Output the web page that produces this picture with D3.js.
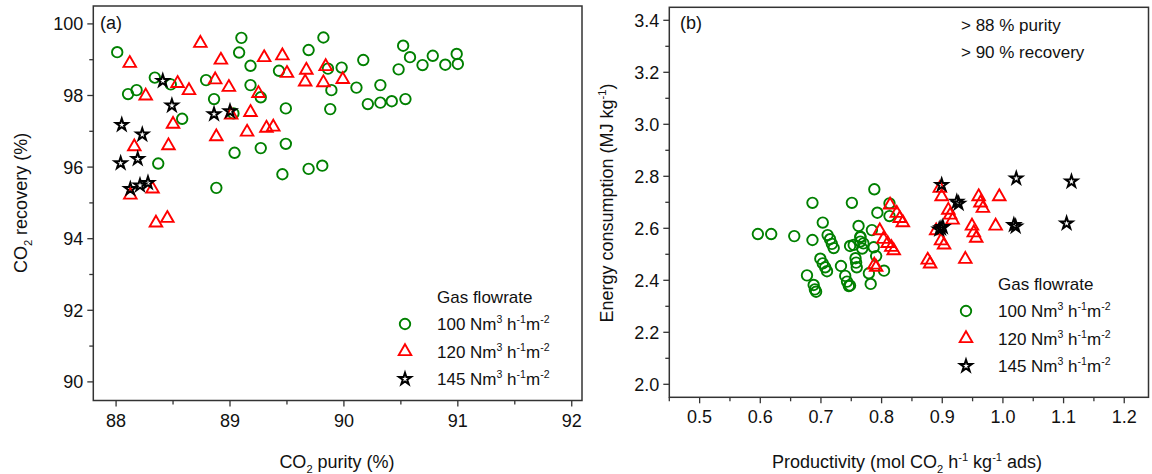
<!DOCTYPE html>
<html>
<head>
<meta charset="utf-8">
<script src="https://cdn.jsdelivr.net/npm/d3@7"></script>
<style>
  body { margin: 0; background: #fff; }
  svg text { font-family: "Liberation Sans", Arial, sans-serif; fill: #111; }
</style>
</head>
<body>
<svg id="svg" width="1152" height="474"></svg>
<script>
// ---- panel (a): CO2 purity (%) vs CO2 recovery (%) ----
const aPurity100 = [88.01, 89.10, 89.08, 89.18, 89.69, 89.82, 89.43, 88.34, 88.105, 88.18, 88.48, 88.79, 88.86,
  89.18, 89.27, 88.58, 89.03, 89.49, 89.04, 89.27, 89.49, 88.37, 89.46, 89.69, 89.81, 88.88,
  89.86, 89.98, 90.17, 90.52, 90.58, 90.78, 90.69, 90.89, 90.99, 91.0, 90.48, 89.89, 90.11, 90.32,
  89.88, 90.21, 90.32, 90.42, 90.54];
const aRecovery100 = [99.21, 99.61, 99.20, 98.83, 99.27, 99.62, 98.69, 98.50, 98.04, 98.15, 98.31, 98.43, 97.90,
  98.29, 97.95, 97.35, 97.50, 97.64, 96.40, 96.53, 96.65, 96.10, 95.80, 95.95, 96.04, 95.42,
  98.75, 98.78, 98.99, 99.39, 99.07, 99.11, 98.85, 98.86, 99.16, 98.88, 98.73, 98.15, 98.22, 98.29,
  97.62, 97.76, 97.80, 97.84, 97.90];

const aPurity120 = [88.74, 88.12, 88.92, 89.30, 89.46, 89.50, 89.67, 89.66, 88.54, 88.64, 88.26, 88.87, 88.99,
  89.25, 89.01, 89.18, 88.50, 88.88, 89.15, 89.32, 89.38, 88.16, 88.46, 88.125, 88.32, 88.35, 88.45,
  89.84, 89.82, 89.99];
const aRecovery120 = [99.46, 98.90, 98.99, 99.06, 99.11, 98.62, 98.71, 98.38, 98.34, 98.14, 97.99, 98.44, 98.23,
  98.06, 97.46, 97.53, 97.20, 96.85, 96.98, 97.09, 97.12, 96.57, 96.60, 95.22, 95.39, 94.44, 94.57,
  98.81, 98.36, 98.45];

const aPurity145 = [88.41, 88.49, 88.05, 88.23, 88.04, 88.19, 88.86, 89.00, 88.125, 88.21, 88.28];
const aRecovery145 = [98.41, 97.72, 97.18, 96.91, 96.11, 96.23, 97.48, 97.56, 95.39, 95.49, 95.56];

// ---- panel (b): productivity vs energy consumption ----
const bProd100 = [0.596, 0.618, 0.656, 0.686, 0.686, 0.703, 0.711, 0.715, 0.718, 0.721, 0.699, 0.703, 0.707, 0.710,
  0.677, 0.688, 0.690, 0.692, 0.751, 0.762, 0.748, 0.733, 0.740, 0.743, 0.746, 0.757, 0.758, 0.759,
  0.765, 0.765, 0.788, 0.793, 0.813, 0.813, 0.784, 0.765, 0.770, 0.768, 0.787, 0.754, 0.791, 0.779,
  0.804, 0.782, 0.748];
const bEnergy100 = [2.578, 2.578, 2.570, 2.698, 2.555, 2.622, 2.574, 2.558, 2.540, 2.524, 2.483, 2.465, 2.450, 2.435,
  2.419, 2.382, 2.365, 2.356, 2.698, 2.609, 2.532, 2.455, 2.417, 2.395, 2.378, 2.485, 2.468, 2.450,
  2.568, 2.549, 2.750, 2.660, 2.696, 2.647, 2.593, 2.565, 2.542, 2.522, 2.527, 2.536, 2.493, 2.427,
  2.437, 2.386, 2.380];

const bProd120 = [0.814, 0.825, 0.830, 0.835, 0.797, 0.803, 0.810, 0.816, 0.820, 0.788, 0.791,
  0.896, 0.899, 0.910, 0.913, 0.917, 0.890, 0.898, 0.903, 0.876, 0.880, 0.938,
  0.960, 0.963, 0.967, 0.994, 0.949, 0.952, 0.956, 0.988];
const bEnergy120 = [2.690, 2.658, 2.638, 2.622, 2.591, 2.558, 2.542, 2.527, 2.514, 2.459, 2.450,
  2.754, 2.722, 2.670, 2.651, 2.632, 2.591, 2.552, 2.536, 2.478, 2.463, 2.481,
  2.722, 2.698, 2.677, 2.722, 2.609, 2.583, 2.562, 2.609];

const bProd145 = [0.899, 0.924, 0.927, 0.898, 0.901, 0.895, 1.022, 1.018, 1.021, 1.113, 1.105];
const bEnergy145 = [2.767, 2.702, 2.695, 2.600, 2.605, 2.596, 2.792, 2.613, 2.607, 2.780, 2.619];

const legendLabels = ["100", "120", "145"];

const svg = d3.select("#svg");
const green = "#008000", red = "#ff0000", black = "#000";

const symCircle = d3.symbol().type(d3.symbolCircle).size(86);
const symTri = d3.symbol().type(d3.symbolTriangle).size(68);
const symStar = d3.symbol().type(d3.symbolStar).size(44);

// text with _sub and ^sup parts: pieces = [[text, "n"|"sub"|"sup"], ...]
function richText(sel, pieces, fs) {
  let shift = 0;
  pieces.forEach(function (p) {
    const kind = p[1];
    let target = 0;
    if (kind === "sub") target = fs * 0.3;
    if (kind === "sup") target = -fs * 0.4;
    sel.append("tspan")
      .attr("dy", target - shift)
      .attr("font-size", kind === "n" ? fs : fs * 0.62)
      .text(p[0]);
    shift = target;
  });
}

function drawMarks(g, x, y, xs, ys, sym, color) {
  g.selectAll(null)
    .data(xs.map((d, i) => [d, ys[i]]))
    .enter()
    .append("path")
    .attr("d", sym)
    .attr("transform", d => `translate(${x(d[0])},${y(d[1])})`)
    .attr("fill", "none")
    .attr("stroke", color)
    .attr("stroke-width", color === black ? 2 : 1.9);
}

function frame(g, x, y) {
  const [x0, x1] = x.range(), [y1, y0] = y.range();
  g.append("rect")
    .attr("x", x0).attr("y", y0)
    .attr("width", x1 - x0).attr("height", y1 - y0)
    .attr("fill", "none").attr("stroke", "#333").attr("stroke-width", 1.5);
}

function axes(g, x, y, xMinor, xMajor, yMinor, yMajor, xFmt, yFmt) {
  const [x0] = x.range(), [y1] = y.range();
  const isMajor = (v, arr) => arr.some(m => Math.abs(m - v) < 1e-6);
  // x ticks
  g.selectAll(null).data(xMinor).enter().append("line")
    .attr("x1", d => x(d)).attr("x2", d => x(d))
    .attr("y1", y1).attr("y2", d => y1 + (isMajor(d, xMajor) ? 6 : 4))
    .attr("stroke", "#333").attr("stroke-width", 1.3);
  g.selectAll(null).data(xMajor).enter().append("text")
    .attr("x", d => x(d)).attr("y", y1 + 26)
    .attr("text-anchor", "middle").attr("font-size", 18)
    .text(xFmt);
  // y ticks
  g.selectAll(null).data(yMinor).enter().append("line")
    .attr("y1", d => y(d)).attr("y2", d => y(d))
    .attr("x1", x0).attr("x2", d => x0 - (isMajor(d, yMajor) ? 6 : 4))
    .attr("stroke", "#333").attr("stroke-width", 1.3);
  g.selectAll(null).data(yMajor).enter().append("text")
    .attr("x", x0 - 10).attr("y", d => y(d) + 6.5)
    .attr("text-anchor", "end").attr("font-size", 18)
    .text(yFmt);
}

function legend(g, lx, ly) {
  g.append("text").attr("x", lx + 32).attr("y", ly).attr("font-size", 17).text("Gas flowrate");
  const syms = [symCircle, symTri, symStar], cols = [green, red, black];
  legendLabels.forEach(function (lab, i) {
    const yy = ly + 27 + i * 27.5;
    g.append("path").attr("d", syms[i])
      .attr("transform", `translate(${lx},${yy - 6})`)
      .attr("fill", "none").attr("stroke", cols[i])
      .attr("stroke-width", cols[i] === black ? 2 : 1.9);
    const t = g.append("text").attr("x", lx + 32).attr("y", yy);
    richText(t, [[lab + " Nm", "n"], ["3", "sup"], [" h", "n"], ["-1", "sup"], ["m", "n"], ["-2", "sup"]], 17);
  });
}

const range = (a, b, s) => d3.range(Math.round((b - a) / s) + 1).map(i => +(a + i * s).toFixed(4));

// ---------- panel (a) ----------
const xA = d3.scaleLinear().domain([87.8, 92.09]).range([93.3, 582]);
const yA = d3.scaleLinear().domain([89.48, 100.5]).range([400.5, 6]);
const gA = svg.append("g");
axes(gA, xA, yA, range(88, 92, 0.5), range(88, 92, 1), range(90, 100, 1), range(90, 100, 2),
  d => d, d => d);
drawMarks(gA, xA, yA, aPurity100, aRecovery100, symCircle, green);
drawMarks(gA, xA, yA, aPurity120, aRecovery120, symTri, red);
drawMarks(gA, xA, yA, aPurity145, aRecovery145, symStar, black);
frame(gA, xA, yA);
gA.append("text").attr("x", 100).attr("y", 29).attr("font-size", 18).text("(a)");
legend(gA, 405, 303);

const tA = gA.append("text").attr("x", 337).attr("y", 468).attr("text-anchor", "middle");
richText(tA, [["CO", "n"], ["2", "sub"], [" purity (%)", "n"]], 18);
const tAy = gA.append("text").attr("transform", "translate(27,203) rotate(-90)").attr("text-anchor", "middle");
richText(tAy, [["CO", "n"], ["2", "sub"], [" recovery (%)", "n"]], 18);

// ---------- panel (b) ----------
const xB = d3.scaleLinear().domain([0.45, 1.24]).range([669.3, 1148.5]);
const yB = d3.scaleLinear().domain([1.95, 3.45]).range([397.3, 7.3]);
const gB = svg.append("g");
axes(gB, xB, yB, range(0.45, 1.2, 0.05), range(0.5, 1.2, 0.1), range(2.0, 3.4, 0.1), range(2.0, 3.4, 0.2),
  d => d.toFixed(1), d => d.toFixed(1));
drawMarks(gB, xB, yB, bProd100, bEnergy100, symCircle, green);
drawMarks(gB, xB, yB, bProd120, bEnergy120, symTri, red);
drawMarks(gB, xB, yB, bProd145, bEnergy145, symStar, black);
frame(gB, xB, yB);
gB.append("text").attr("x", 680).attr("y", 29).attr("font-size", 18).text("(b)");
gB.append("text").attr("x", 961).attr("y", 31).attr("font-size", 17).text("> 88 % purity");
gB.append("text").attr("x", 961).attr("y", 58).attr("font-size", 17).text("> 90 % recovery");
legend(gB, 966, 290);

const tB = gB.append("text").attr("x", 907).attr("y", 468).attr("text-anchor", "middle");
richText(tB, [["Productivity (mol CO", "n"], ["2", "sub"], [" h", "n"], ["-1", "sup"], [" kg", "n"], ["-1", "sup"], [" ads)", "n"]], 18);
const tBy = gB.append("text").attr("transform", "translate(613,203) rotate(-90)").attr("text-anchor", "middle");
richText(tBy, [["Energy consumption (MJ kg", "n"], ["-1", "sup"], [")", "n"]], 18);
</script>
</body>
</html>
